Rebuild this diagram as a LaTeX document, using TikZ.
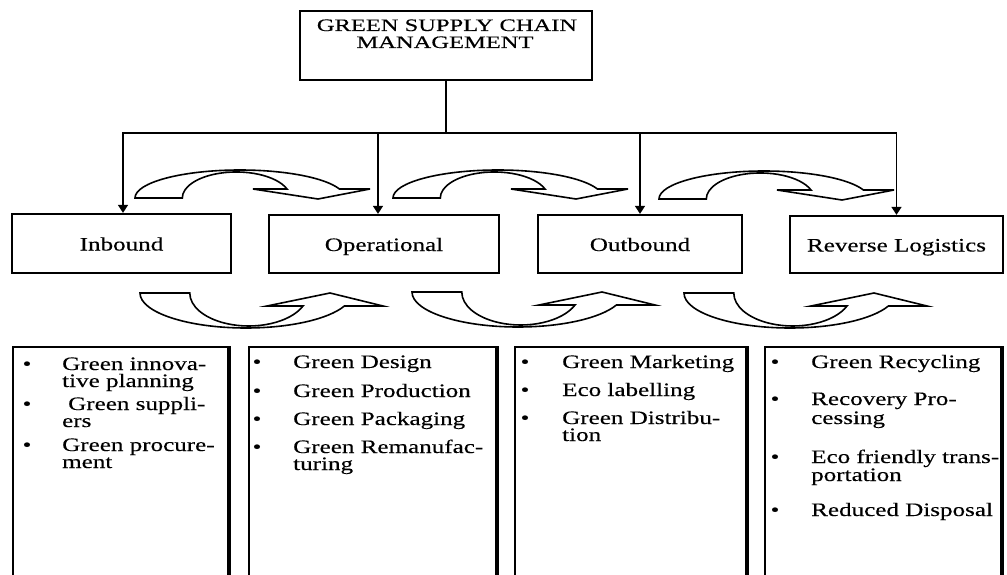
\documentclass[tikz,border=0pt]{standalone}
\usepackage{fontspec}
\setmainfont{Liberation Serif}
\newfontfamily\labfont[FakeStretch=1.32,FakeBold=0.3]{Liberation Serif}
\newfontfamily\topfont[FakeStretch=1.40,FakeBold=0.3]{Liberation Serif}
\usetikzlibrary{arrows.meta}
\newcommand{\curvedownarrow}[2]{%
  \draw[curvearrow] (#1,#2) arc[start angle=180,end angle=341.3,x radius=105,y radius=28]
    -- (#1+235,#2-9) -- (#1+183,#2+1) -- (#1+118,#2-9) -- (#1+152,#2-9)
    arc[start angle=339.8,end angle=180,x radius=54,y radius=26] -- cycle;}
\newcommand{\curveuparrow}[2]{%
  \draw[curvearrow] (#1,#2) arc[start angle=180,end angle=21.8,x radius=106,y radius=35]
    -- (#1+243,#2+13) -- (#1+190,#2) -- (#1+127,#2+13) -- (#1+163,#2+13)
    arc[start angle=23.2,end angle=180,x radius=59,y radius=33] -- cycle;}
\begin{document}
\begin{tikzpicture}[x=1pt,y=-1pt,
  lvl/.style={draw, line width=2.3pt, inner sep=0pt, text height=18pt, text depth=4pt,
    font=\labfont\fontsize{19}{19}\selectfont},
  conn/.style={line width=1.7pt},
  tipped/.style={conn, -{Triangle[width=10pt,length=8pt]}},
  curvearrow/.style={line width=1.6pt, fill=white, line join=miter},
  bbox/.style={line width=2.3pt},
  txt/.style={anchor=base west, inner sep=0pt, font=\labfont\fontsize{19}{19}\selectfont},
  bul/.style={anchor=base, inner sep=0pt, font=\labfont\fontsize{19}{19}\selectfont},
  ttl/.style={anchor=base, inner sep=0pt, font=\topfont\fontsize{17.5}{16}\selectfont}]
\useasboundingbox (0,0) rectangle (1007,575);
\fill[white] (0,0) rectangle (1007,575);

% top box
\node[draw, line width=2.6pt, minimum width=292pt, minimum height=69pt, inner sep=0pt] (top) at (446,45.5) {};
\node[ttl] (ttl1) at (447,31) {GREEN SUPPLY CHAIN};
\node[ttl] (ttl2) at (445,48) {MANAGEMENT};

% level-2 boxes
\node[lvl, minimum width=219pt, minimum height=59pt] (in) at (121.5,243.5) {Inbound};
\node[lvl, minimum width=230pt, minimum height=58pt] (op) at (384,244) {Operational};
\node[lvl, minimum width=204pt, minimum height=58pt] (out) at (640,244) {Outbound};
\node[lvl, minimum width=213pt, minimum height=57pt] (rev) at (896.5,244.5) {Reverse Logistics};

% connectors
\coordinate (bus) at (446,133);
\draw[conn] (top.south) -- (bus);
\draw[tipped] (bus) -| ([xshift=1.5pt]in.north);
\draw[tipped] (bus) -| (rev.north);
\draw[tipped] ([xshift=-6pt]op.north |- bus) -- ([xshift=-6pt]op.north);
\draw[tipped] (out.north |- bus) -- (out.north);

% curved arrows, upper row
\curvedownarrow{135}{198}
\curvedownarrow{393}{198}
\curvedownarrow{659}{199}
% curved arrows, lower row
\curveuparrow{140}{293}
\curveuparrow{412}{292}
\curveuparrow{684}{293}

% bottom boxes
\draw[bbox] (13,600) -- (13,347) -- (229,347) -- (229,600);
\draw[line width=4.5pt] (229,346) -- (229,600);
\draw[bbox] (249,600) -- (249,347) -- (497,347) -- (497,600);
\draw[line width=4.5pt] (497,346) -- (497,600);
\draw[bbox] (515,600) -- (515,347) -- (747,347) -- (747,600);
\draw[line width=4.5pt] (747,346) -- (747,600);
\draw[bbox] (765,600) -- (765,347) -- (1002,347) -- (1002,600);
\draw[line width=4.5pt] (1002,346) -- (1002,600);

% box 1 text
\node[bul] (u1a) at (27,370) {•};
\node[txt] (v1a) at (62,370) {Green innova-};
\node[txt] (v1b) at (62,387) {tive planning};
\node[bul] (u1b) at (27,410) {•};
\node[txt] (v1c) at (68,410) {Green suppli-};
\node[txt] (v1d) at (62,427) {ers};
\node[bul] (u1c) at (27,451) {•};
\node[txt] (v1e) at (62,451) {Green procure-};
\node[txt] (v1f) at (62,468) {ment};

% box 2 text
\node[bul] (u2a) at (257,368) {•};
\node[txt] (v2a) at (293,368) {Green Design};
\node[bul] (u2b) at (257,397) {•};
\node[txt] (v2b) at (293,397) {Green Production};
\node[bul] (u2c) at (257,425) {•};
\node[txt] (v2c) at (293,425) {Green Packaging};
\node[bul] (u2d) at (257,453) {•};
\node[txt] (v2d) at (293,453) {Green Remanufac-};
\node[txt] (v2e) at (293,470) {turing};

% box 3 text
\node[bul] (u3a) at (525,368) {•};
\node[txt] (v3a) at (562,368) {Green Marketing};
\node[bul] (u3b) at (525,396) {•};
\node[txt] (v3b) at (562,396) {Eco labelling};
\node[bul] (u3c) at (525,424) {•};
\node[txt] (v3c) at (562,424) {Green Distribu-};
\node[txt] (v3d) at (562,441) {tion};

% box 4 text
\node[bul] (u4a) at (775,368) {•};
\node[txt] (v4a) at (811,368) {Green Recycling};
\node[bul] (u4b) at (775,405) {•};
\node[txt] (v4b) at (811,405) {Recovery Pro-};
\node[txt] (v4c) at (811,424) {cessing};
\node[bul] (u4c) at (775,463) {•};
\node[txt] (v4d) at (811,463) {Eco friendly trans-};
\node[txt] (v4e) at (811,481) {portation};
\node[bul] (u4d) at (775,516) {•};
\node[txt] (v4f) at (811,516) {Reduced Disposal};
\end{tikzpicture}
\end{document}
